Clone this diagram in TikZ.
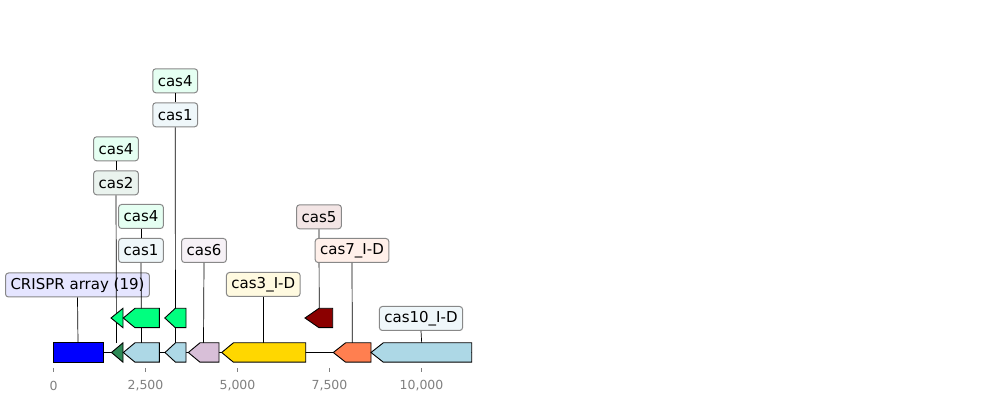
\documentclass[tikz,border=0pt]{standalone}
\usepackage{fontspec}
\setmainfont{DejaVu Sans}
\definecolor{cBlue}{HTML}{0000FF}
\definecolor{cSea}{HTML}{2E8B57}
\definecolor{cLB}{HTML}{ADD8E6}
\definecolor{cSpring}{HTML}{00FF7F}
\definecolor{cThistle}{HTML}{D8BFD8}
\definecolor{cGold}{HTML}{FFD700}
\definecolor{cDRed}{HTML}{8B0000}
\definecolor{cCoral}{HTML}{FF7F50}
\definecolor{cBord}{HTML}{888888}
\definecolor{cTick}{HTML}{808080}
\newcommand\genearrow[5]{% xl xr yc head color
  \filldraw[genestyle,fill=#5] (#1,#3) -- ({#1+#4},{#3-9.7}) -- (#2,{#3-9.7}) -- (#2,{#3+9.7}) -- ({#1+#4},{#3+9.7}) -- cycle;}
\tikzset{
  genestyle/.style={draw=black,line width=0.9pt,line join=miter},
  lab/.style={draw=cBord,rounded corners=3pt,line width=1pt,inner xsep=5pt,inner ysep=0pt,minimum height=24pt,text=black,font=\fontsize{15}{17}\selectfont},
  lead/.style={draw=black,line width=0.7pt},
  ticklab/.style={text=cTick,font=\fontsize{12.5}{14}\selectfont,inner sep=0pt},
}
\begin{document}
\begin{tikzpicture}[x=1pt,y=-1pt]
\useasboundingbox (0,0) rectangle (986,403);
% backbone
\draw[line width=1.6pt] (53.5,352.5) -- (471.7,352.5);
% anchor coordinates on genes
\coordinate (gCR) at (78,343);
\coordinate (gSea) at (116.5,343);
\coordinate (gLB1) at (141.5,343);
\coordinate (gLB2) at (175.5,343);
\coordinate (gTh) at (203.5,343);
\coordinate (gGold) at (263.3,343);
\coordinate (gDR) at (319.2,308.3);
\coordinate (gCor) at (352.3,343);
\coordinate (gLB3) at (421.7,343);
% labels
\node[lab,fill=cBlue!10] (lCR) at (77.5,285) {CRISPR array (19)};
\node[lab,fill=cGold!12] (lG) at (263.3,284.5) {cas3\_I-D};
\node[lab,fill=cLB!20] (l10) at (421,318.5) {cas10\_I-D};
\node[lab,fill=cThistle!22] (l6) at (204,250.5) {cas6};
\node[lab,fill=cLB!20] (l1b) at (141,250.5) {cas1};
\node[lab,fill=cSpring!10] (l4b) at (141,216.5) {cas4};
\node[lab,fill=cSea!10] (l2) at (116,182.8) {cas2};
\node[lab,fill=cSpring!10] (l4c) at (116,148.8) {cas4};
\node[lab,fill=cLB!20] (l1a) at (175.2,114.8) {cas1};
\node[lab,fill=cSpring!10] (l4a) at (175.2,80.8) {cas4};
\node[lab,fill=cDRed!10] (l5) at (319,216.8) {cas5};
% leader lines
\draw[lead] (lCR.south) -- (gCR);
\draw[lead] (lG.south) -- (gGold);
\draw[lead] (l10.south) -- (gLB3);
\draw[lead] (l6.south) -- (gTh);
\draw[lead] (l1b.south) -- (gLB1);
\draw[lead] (l4b.south) -- (l1b.north);
\draw[lead] (l2.south) -- (gSea);
\draw[lead] (l4c.south) -- (l2.north);
\draw[lead] (l1a.south) -- (gLB2);
\draw[lead] (l4a.south) -- (l1a.north);
\draw[lead] (l5.south) -- (gDR);
\node[lab,fill=cCoral!12] (l7) at (352,250.5) {cas7\_I-D};
\draw[lead] (l7.south) -- (gCor);
% main row genes
\filldraw[genestyle,fill=cBlue] (53.5,342.8) rectangle (103.5,362.2);
\genearrow{111.5}{123}{352.5}{11.5}{cSea}
\genearrow{123.3}{159.3}{352.5}{11.7}{cLB}
\genearrow{165}{186}{352.5}{10.5}{cLB}
\genearrow{188.3}{219}{352.5}{11.7}{cThistle}
\genearrow{221.7}{305.7}{352.5}{11.7}{cGold}
\genearrow{333.3}{371}{352.5}{12.3}{cCoral}
\genearrow{371}{471.7}{352.5}{12.3}{cLB}
% upper row genes
\genearrow{111}{123}{318}{12}{cSpring}
\genearrow{123.3}{159.3}{318}{11.7}{cSpring}
\genearrow{164.8}{186}{318}{10.5}{cSpring}
\genearrow{305}{332.7}{318}{14}{cDRed}
% axis ticks
\foreach \xx/\tl in {53.5/0,145.5/{2,500},237.5/{5,000},329.5/{7,500},421.5/{10,000}}{
  \draw[cTick,line width=0.8pt] (\xx,368) -- (\xx,372.5);
  \node[ticklab] at (\xx,386) {\tl};
}
\end{tikzpicture}
\end{document}
